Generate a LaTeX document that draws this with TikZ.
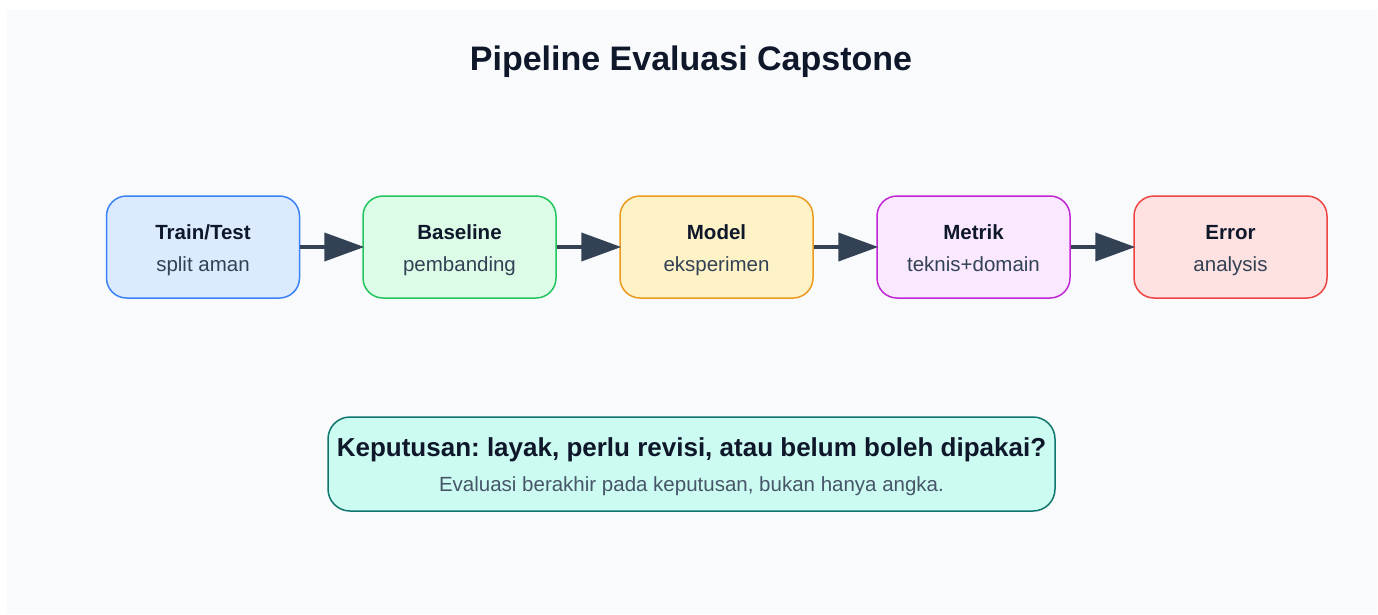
\documentclass[tikz,border=0pt]{standalone}
\usepackage{fontspec}
\setmainfont{Liberation Sans}
\usetikzlibrary{arrows.meta}
\frenchspacing
\definecolor{bgc}{HTML}{F8FAFC}
\definecolor{ink}{HTML}{0F172A}
\definecolor{subink}{HTML}{334155}
\definecolor{noteink}{HTML}{475569}
\definecolor{arrowc}{HTML}{334155}
\definecolor{f1}{HTML}{DBEAFE}\definecolor{d1}{HTML}{3B82F6}
\definecolor{f2}{HTML}{DCFCE7}\definecolor{d2}{HTML}{22C55E}
\definecolor{f3}{HTML}{FEF3C7}\definecolor{d3}{HTML}{EC9A1E}
\definecolor{f4}{HTML}{FAE8FF}\definecolor{d4}{HTML}{C026D3}
\definecolor{f5}{HTML}{FEE2E2}\definecolor{d5}{HTML}{EF4444}
\definecolor{f6}{HTML}{CCFBF1}\definecolor{d6}{HTML}{0F766E}
\tikzset{
  stagebox/.style={draw=#1, line width=1.5pt, rounded corners=20pt, minimum width=193pt, minimum height=102pt, inner sep=0pt},
  boxtitle/.style={anchor=base, inner sep=0pt, text=ink, font=\fontsize{20.5}{24}\selectfont\bfseries},
  boxsub/.style={anchor=base, inner sep=0pt, text=subink, font=\fontsize{20.5}{24}\selectfont},
  flow/.style={draw=arrowc, line width=4pt, -{Triangle[length=40pt,width=28pt]}, shorten >=-2pt}
}
\begin{document}
\begin{tikzpicture}[x=1pt,y=-1pt]
\useasboundingbox (0,0) rectangle (1378,614);
\fill[bgc] (7,10) rectangle (1377,614);
\node[anchor=base, inner sep=0pt, text=ink, font=\fontsize{34}{40}\selectfont\bfseries] (title) at (691,70) {Pipeline Evaluasi Capstone};

\node[stagebox=d1, fill=f1] (b1) at (203,247) {};
\node[stagebox=d2, fill=f2] (b2) at (459.5,247) {};
\node[stagebox=d3, fill=f3] (b3) at (716.5,247) {};
\node[stagebox=d4, fill=f4] (b4) at (973.5,247) {};
\node[stagebox=d5, fill=f5] (b5) at (1230.5,247) {};

\node[boxtitle] (t1) at ([yshift=8pt]b1.center) {Train/Test};
\node[boxsub] (s1) at ([yshift=-24pt]b1.center) {split aman};
\node[boxtitle] (t2) at ([yshift=8pt]b2.center) {Baseline};
\node[boxsub] (s2) at ([yshift=-24pt]b2.center) {pembanding};
\node[boxtitle] (t3) at ([yshift=8pt]b3.center) {Model};
\node[boxsub] (s3) at ([yshift=-24pt]b3.center) {eksperimen};
\node[boxtitle] (t4) at ([yshift=8pt]b4.center) {Metrik};
\node[boxsub] (s4) at ([yshift=-24pt]b4.center) {teknis+domain};
\node[boxtitle] (t5) at ([yshift=8pt]b5.center) {Error};
\node[boxsub] (s5) at ([yshift=-24pt]b5.center) {analysis};

\draw[flow] (b1.east) -- (b2.west);
\draw[flow] (b2.east) -- (b3.west);
\draw[flow] (b3.east) -- (b4.west);
\draw[flow] (b4.east) -- (b5.west);

\node[draw=d6, fill=f6, line width=1.5pt, rounded corners=22pt, minimum width=727pt, minimum height=94pt, inner sep=0pt] (dec) at (691.5,464) {};
\node[anchor=base, inner sep=0pt, text=ink, font=\fontsize{26}{30}\selectfont\bfseries] (dect) at ([yshift=7.3pt]dec.center) {Keputusan: layak, perlu revisi, atau belum boleh dipakai?};
\node[anchor=base, inner sep=0pt, text=noteink, font=\fontsize{20.5}{24}\selectfont] (decs) at ([yshift=-27pt]dec.center) {Evaluasi berakhir pada keputusan, bukan hanya angka.};
\end{tikzpicture}
\end{document}
